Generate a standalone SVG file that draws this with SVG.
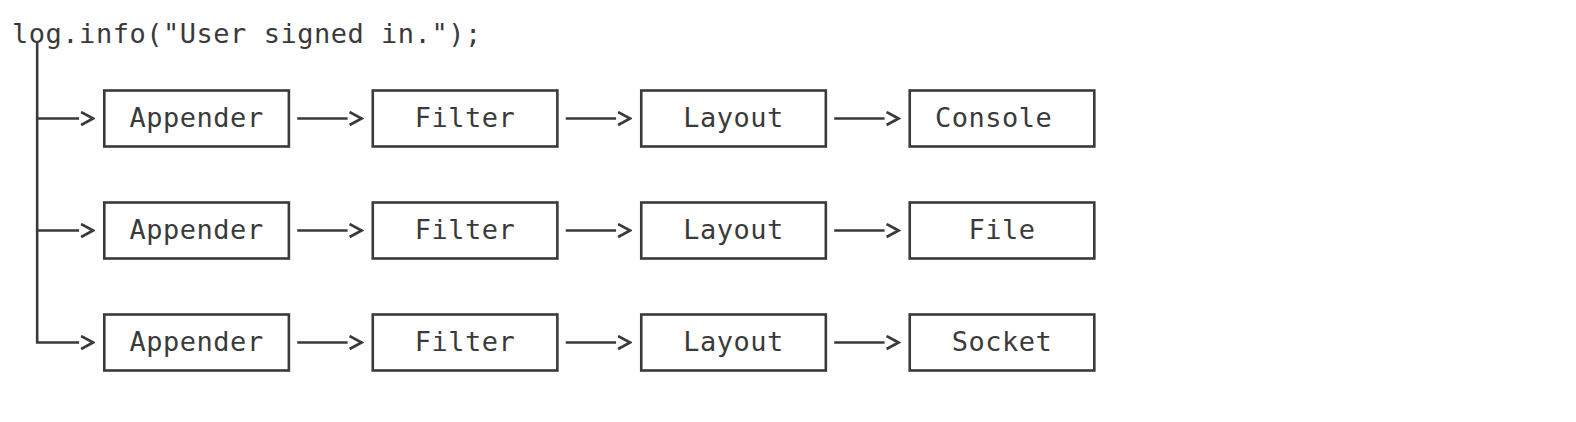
<svg xmlns="http://www.w3.org/2000/svg" width="1576" height="422" viewBox="0 0 1576 422">
  <defs>
    <style>
      .t { font-family: "DejaVu Sans Mono", "Liberation Mono", monospace; font-size: 27px; letter-spacing: 0.52px; fill: #3a3a3a; }
      .box { fill: #ffffff; stroke: #3a3a3a; stroke-width: 2.6; }
      .wire { fill: none; stroke: #3a3a3a; stroke-width: 2.6; }
    </style>
    <marker id="chev" markerUnits="userSpaceOnUse" viewBox="0 0 16 16" refX="0" refY="8" markerWidth="16" markerHeight="16" orient="auto">
      <path d="M2,1.5 L14,8 L2,14.5" fill="none" stroke="#3a3a3a" stroke-width="2.6"/>
    </marker>
  </defs>
  <rect width="1576" height="422" fill="#ffffff"/>

  <g id="statement">
    <text class="t" x="12" y="43">log.info("User signed in.");</text>
  </g>

  <g id="connectors">
    <path class="wire" d="M37.17,42 V342.5 H79.12" marker-end="url(#chev)"/>
    <path class="wire" d="M37.17,118.5 H79.12" marker-end="url(#chev)"/>
    <path class="wire" d="M37.17,230.5 H79.12" marker-end="url(#chev)"/>

    <path class="wire" d="M297.26,118.5 H347.6" marker-end="url(#chev)"/>
    <path class="wire" d="M565.74,118.5 H616.08" marker-end="url(#chev)"/>
    <path class="wire" d="M834.22,118.5 H884.56" marker-end="url(#chev)"/>

    <path class="wire" d="M297.26,230.5 H347.6" marker-end="url(#chev)"/>
    <path class="wire" d="M565.74,230.5 H616.08" marker-end="url(#chev)"/>
    <path class="wire" d="M834.22,230.5 H884.56" marker-end="url(#chev)"/>

    <path class="wire" d="M297.26,342.5 H347.6" marker-end="url(#chev)"/>
    <path class="wire" d="M565.74,342.5 H616.08" marker-end="url(#chev)"/>
    <path class="wire" d="M834.22,342.5 H884.56" marker-end="url(#chev)"/>
  </g>

  <g id="appender1"><rect class="box" x="104.29" y="90.5" width="184.58" height="56"/><text class="t" x="129.46" y="127">Appender</text></g>
  <g id="filter1"><rect class="box" x="372.77" y="90.5" width="184.58" height="56"/><text class="t" x="414.72" y="127">Filter</text></g>
  <g id="layout1"><rect class="box" x="641.25" y="90.5" width="184.58" height="56"/><text class="t" x="683.2" y="127">Layout</text></g>
  <g id="console"><rect class="box" x="909.73" y="90.5" width="184.58" height="56"/><text class="t" x="934.9" y="127">Console</text></g>

  <g id="appender2"><rect class="box" x="104.29" y="202.5" width="184.58" height="56"/><text class="t" x="129.46" y="239">Appender</text></g>
  <g id="filter2"><rect class="box" x="372.77" y="202.5" width="184.58" height="56"/><text class="t" x="414.72" y="239">Filter</text></g>
  <g id="layout2"><rect class="box" x="641.25" y="202.5" width="184.58" height="56"/><text class="t" x="683.2" y="239">Layout</text></g>
  <g id="file"><rect class="box" x="909.73" y="202.5" width="184.58" height="56"/><text class="t" x="968.46" y="239">File</text></g>

  <g id="appender3"><rect class="box" x="104.29" y="314.5" width="184.58" height="56"/><text class="t" x="129.46" y="351">Appender</text></g>
  <g id="filter3"><rect class="box" x="372.77" y="314.5" width="184.58" height="56"/><text class="t" x="414.72" y="351">Filter</text></g>
  <g id="layout3"><rect class="box" x="641.25" y="314.5" width="184.58" height="56"/><text class="t" x="683.2" y="351">Layout</text></g>
  <g id="socket"><rect class="box" x="909.73" y="314.5" width="184.58" height="56"/><text class="t" x="951.68" y="351">Socket</text></g>
</svg>
